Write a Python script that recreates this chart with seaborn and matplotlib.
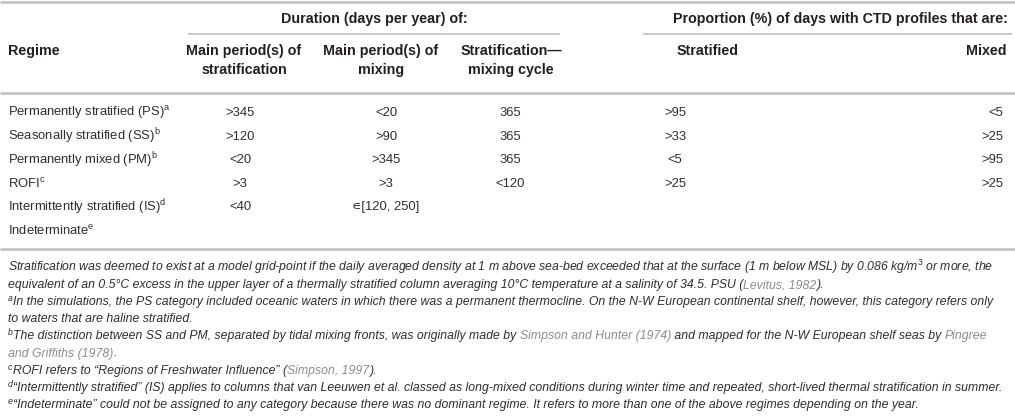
import matplotlib
matplotlib.use("Agg")
import matplotlib.pyplot as plt
import seaborn as sns

# Table content
regimes = [
    r"Permanently stratified (PS)$^{\mathrm{a}}$",
    r"Seasonally stratified (SS)$^{\mathrm{b}}$",
    r"Permanently mixed (PM)$^{\mathrm{b}}$",
    r"ROFI$^{\mathrm{c}}$",
    r"Intermittently stratified (IS)$^{\mathrm{d}}$",
    r"Indeterminate$^{\mathrm{e}}$",
]
strat_period = [">345", ">120", "<20", ">3", "<40", ""]
mix_period = ["<20", ">90", ">345", ">3", "\u220a[120, 250]", ""]
cycle = ["365", "365", "365", "<120", "", ""]
pct_stratified = [">95", ">33", "<5", ">25", "", ""]
pct_mixed = ["<5", ">25", ">95", ">25", "", ""]

group_headers = ["Duration (days per year) of:",
                 "Proportion (%) of days with CTD profiles that are:"]
col_headers = [["Regime"],
               ["Main period(s) of", "stratification"],
               ["Main period(s) of", "mixing"],
               ["Stratification\u2014", "mixing cycle"],
               ["Stratified"],
               ["Mixed"]]

# footnotes: marker letter and a list of (text, is_citation) pieces per line
note_marks = ["", "", "a", "", "b", "", "c", "d", "e"]
footnotes = [
    [("Stratification was deemed to exist at a model grid-point if the daily averaged density at 1 m above "
      "sea-bed exceeded that at the surface (1 m below MSL) by 0.086 kg/m$^{3}$ or more, the", False)],
    [("equivalent of an 0.5\u00b0C excess in the upper layer of a thermally stratified column averaging "
      "10\u00b0C temperature at a salinity of 34.5. PSU (", False), ("Levitus, 1982", True), (").", False)],
    [("In the simulations, the PS category included oceanic waters in which there was a permanent "
      "thermocline. On the N-W European continental shelf, however, this category refers only", False)],
    [("to waters that are haline stratified.", False)],
    [("The distinction between SS and PM, separated by tidal mixing fronts, was originally made by ", False),
     ("Simpson and Hunter (1974)", True),
     (" and mapped for the N-W European shelf seas by ", False), ("Pingree", True)],
    [("and Griffiths (1978)", True), (".", False)],
    [("ROFI refers to \u201cRegions of Freshwater Influence\u201d (", False), ("Simpson, 1997", True),
     (").", False)],
    [("\u201cIntermittently stratified\u201d (IS) applies to columns that van Leeuwen et al. classed as "
      "long-mixed conditions during winter time and repeated, short-lived thermal stratification in summer.", False)],
    [("\u201cIndeterminate\u201d could not be assigned to any category because there was no dominant "
      "regime. It refers to more than one of the above regimes depending on the year.", False)],
]

sns.set_theme(style="white")
plt.rcParams['font.family'] = ['Liberation Sans', 'DejaVu Sans']
plt.rcParams['mathtext.fontset'] = 'custom'
plt.rcParams['mathtext.rm'] = 'Liberation Sans'
plt.rcParams['mathtext.it'] = 'Liberation Sans:italic'
plt.rcParams['mathtext.bf'] = 'Liberation Sans:bold'

TEXT = "#231f20"
BODY = "#2e2e2e"
CITE = "#8c8c8c"
RULE = "#c4c4c4"
FS_HEAD = 10.3
FS = 9.4
FS_NOTE = 8.85

fig = plt.figure(figsize=(10.15, 4.18), dpi=100)
ax = fig.add_axes([0, 0, 1, 1])
ax.set_xlim(0, 1015)
ax.set_ylim(418, 0)
ax.axis("off")

# rules
ax.hlines(2, 0, 1015, color=RULE, lw=2)
ax.hlines(34, 188, 560, color=RULE, lw=1.3)
ax.hlines(34, 643, 1012, color=RULE, lw=1.3)
ax.hlines(93, 0, 1015, color=RULE, lw=2)
ax.hlines(249, 0, 1015, color=RULE, lw=2)

# group headers
ax.text(374, 19, group_headers[0], ha="center", va="center", fontsize=FS_HEAD, weight="bold", color=TEXT)
ax.text(1008, 19, group_headers[1], ha="right", va="center", fontsize=FS_HEAD, weight="bold", color=TEXT)

# column headers
head_x = [8, 244, 381, 511, 677, 1007]
head_ha = ["left", "center", "center", "center", "left", "right"]
for x, ha, lines in zip(head_x, head_ha, col_headers):
    for j, line in enumerate(lines):
        ax.text(x, 51 + 19 * j, line, ha=ha, va="center", fontsize=FS_HEAD, weight="bold", color=TEXT)

# body rows
row_y0, row_dy = 113, 23.6
cols = [(regimes, 8, "left"), (strat_period, 240, "center"), (mix_period, 386, "center"),
        (cycle, 510, "center"), (pct_stratified, 675, "center"), (pct_mixed, 1003, "right")]
for values, x, ha in cols:
    for i, v in enumerate(values):
        if v:
            ax.text(x, row_y0 + row_dy * i, v, ha=ha, va="center", fontsize=FS, color=BODY)

# footnotes, pieces laid end to end
fig.canvas.draw()
renderer = fig.canvas.get_renderer()
px = 1015 / fig.bbox.width


def put(x, y, txt, **kw):
    t = ax.text(x, y, txt, ha="left", va="baseline", style="italic", **kw)
    return x + t.get_window_extent(renderer).width * px


note_y0, note_dy = 271, 17.1
for i, (mark, pieces) in enumerate(zip(note_marks, footnotes)):
    x = 8
    y = note_y0 + note_dy * i
    if mark:
        x = put(x, y - 4, mark, fontsize=6.3, color=BODY) + 0.5
    for txt, cite in pieces:
        x = put(x, y, txt, fontsize=FS_NOTE, color=CITE if cite else BODY)

fig.savefig("out.png", dpi=100)
